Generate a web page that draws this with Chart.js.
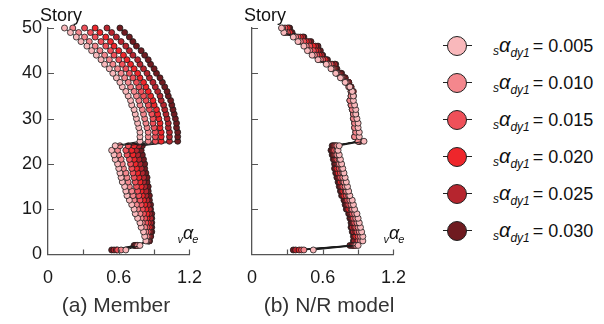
<!DOCTYPE html>
<html lang="en">
<head>
<meta charset="UTF-8">
<title>Story distribution of vαe</title>
<script src="https://cdn.jsdelivr.net/npm/chart.js"></script>
<style>
  body { margin: 0; background: #fff; }
  #wrap { position: relative; width: 604px; height: 324px; font-family: 'Liberation Sans', Arial, sans-serif; }
  #wrap canvas { position: absolute; top: 0; }
  #chartA { left: 0; }
  #chartB { left: 204px; }
  .row { position: absolute; left: 440px; width: 164px; height: 24px; line-height: 24px; font-size: 18px; color: #111; }
  .row .ln { position: absolute; left: 3px; top: 11px; width: 29px; height: 1.3px; background: #222; }
  .row .dot { position: absolute; left: 7px; top: 2px; width: 20px; height: 20px; border-radius: 50%; border: 1.3px solid #222; box-sizing: border-box; }
  .row .txt { position: absolute; left: 53px; top: 0; white-space: nowrap; }
  .pre, .post { font-style: italic; font-size: 12px; position: relative; line-height: 1; }
  .pre { top: 3px; }
  .post { top: 5px; margin-right: 3px; }
  .al { font-style: italic; font-size: 20px; line-height: 1; }
</style>
</head>
<body>
<div id="wrap">
  <canvas id="chartA" width="215" height="324"></canvas>
  <canvas id="chartB" width="215" height="324"></canvas>
  <div id="legend"></div>
</div>
<script>
// story numbers (y axis)
const stories = [1, 2, 3, 4, 5, 6, 7, 8, 9, 10,
  11, 12, 13, 14, 15, 16, 17, 18, 19, 20,
  21, 22, 23, 24, 25, 26, 27, 28, 29, 30,
  31, 32, 33, 34, 35, 36, 37, 38, 39, 40,
  41, 42, 43, 44, 45, 46, 47, 48, 49, 50];

const seriesLabels = ['0.005', '0.010', '0.015', '0.020', '0.025', '0.030'];
const seriesColors = ['#f9b8bb', '#f4878d', '#ef5059', '#ee262b', '#b6252e', '#6f1b20'];

const xTickValues = [0, 0.3, 0.6, 0.9, 1.2];
const xTickLabels = ['0', '', '0.6', '', '1.2'];
const yTickValues = [0, 10, 20, 30, 40, 50];

// (a) Member, story 1..50
const member005 = [0.66, 0.78, 0.83, 0.82, 0.81, 0.79, 0.78, 0.76, 0.74, 0.73,
  0.71, 0.69, 0.67, 0.66, 0.65, 0.63, 0.62, 0.61, 0.60, 0.59,
  0.57, 0.56, 0.54, 0.57, 0.78, 0.78, 0.78, 0.77, 0.76, 0.75,
  0.74, 0.73, 0.71, 0.70, 0.68, 0.66, 0.63, 0.61, 0.58, 0.55,
  0.52, 0.48, 0.45, 0.41, 0.37, 0.33, 0.28, 0.24, 0.19, 0.14];
const member010 = [0.62, 0.76, 0.84, 0.84, 0.83, 0.82, 0.80, 0.79, 0.78, 0.76,
  0.75, 0.73, 0.72, 0.71, 0.69, 0.68, 0.67, 0.66, 0.64, 0.63,
  0.62, 0.60, 0.59, 0.61, 0.85, 0.85, 0.85, 0.84, 0.83, 0.82,
  0.81, 0.80, 0.78, 0.77, 0.75, 0.73, 0.70, 0.68, 0.65, 0.62,
  0.59, 0.55, 0.52, 0.48, 0.44, 0.40, 0.35, 0.31, 0.26, 0.21];
const member015 = [0.59, 0.76, 0.85, 0.85, 0.85, 0.84, 0.83, 0.82, 0.81, 0.80,
  0.79, 0.78, 0.77, 0.76, 0.75, 0.74, 0.73, 0.72, 0.71, 0.70,
  0.69, 0.67, 0.66, 0.68, 0.91, 0.91, 0.91, 0.90, 0.89, 0.89,
  0.88, 0.86, 0.85, 0.83, 0.81, 0.79, 0.77, 0.75, 0.72, 0.69,
  0.66, 0.63, 0.60, 0.56, 0.53, 0.49, 0.45, 0.40, 0.36, 0.31];
const member020 = [0.58, 0.75, 0.85, 0.86, 0.86, 0.86, 0.85, 0.84, 0.84, 0.83,
  0.82, 0.81, 0.80, 0.79, 0.79, 0.78, 0.77, 0.76, 0.75, 0.74,
  0.73, 0.72, 0.71, 0.73, 0.96, 0.96, 0.96, 0.95, 0.95, 0.94,
  0.93, 0.92, 0.90, 0.89, 0.87, 0.85, 0.83, 0.81, 0.78, 0.76,
  0.73, 0.70, 0.67, 0.64, 0.60, 0.56, 0.53, 0.49, 0.44, 0.40];
const member025 = [0.56, 0.74, 0.86, 0.87, 0.87, 0.87, 0.87, 0.87, 0.86, 0.86,
  0.85, 0.84, 0.83, 0.83, 0.82, 0.81, 0.81, 0.80, 0.79, 0.78,
  0.77, 0.76, 0.75, 0.77, 1.03, 1.03, 1.03, 1.02, 1.02, 1.01,
  1.00, 0.99, 0.98, 0.96, 0.95, 0.93, 0.91, 0.89, 0.86, 0.84,
  0.81, 0.78, 0.76, 0.72, 0.69, 0.66, 0.62, 0.58, 0.54, 0.50];
const member030 = [0.54, 0.73, 0.86, 0.87, 0.88, 0.88, 0.88, 0.88, 0.88, 0.87,
  0.87, 0.86, 0.86, 0.85, 0.85, 0.84, 0.84, 0.83, 0.82, 0.82,
  0.81, 0.80, 0.79, 0.80, 1.10, 1.10, 1.10, 1.09, 1.09, 1.08,
  1.07, 1.06, 1.05, 1.04, 1.02, 1.01, 0.99, 0.97, 0.95, 0.92,
  0.90, 0.87, 0.85, 0.82, 0.79, 0.75, 0.72, 0.69, 0.65, 0.61];

// (b) N/R model, story 1..50
const nr005 = [0.52, 0.90, 0.94, 0.94, 0.93, 0.92, 0.91, 0.90, 0.89, 0.87,
  0.86, 0.85, 0.83, 0.82, 0.81, 0.80, 0.79, 0.78, 0.77, 0.76,
  0.75, 0.74, 0.73, 0.74, 0.95, 0.91, 0.91, 0.90, 0.90, 0.89,
  0.88, 0.88, 0.87, 0.86, 0.86, 0.85, 0.83, 0.79, 0.75, 0.71,
  0.67, 0.63, 0.56, 0.51, 0.47, 0.44, 0.39, 0.35, 0.27, 0.25];
const nr010 = [0.44, 0.88, 0.92, 0.92, 0.91, 0.90, 0.89, 0.88, 0.87, 0.85,
  0.84, 0.83, 0.82, 0.80, 0.79, 0.78, 0.77, 0.77, 0.76, 0.74,
  0.74, 0.72, 0.72, 0.72, 0.90, 0.87, 0.88, 0.87, 0.87, 0.86,
  0.86, 0.85, 0.84, 0.83, 0.84, 0.84, 0.82, 0.80, 0.76, 0.72,
  0.68, 0.65, 0.58, 0.53, 0.49, 0.46, 0.41, 0.37, 0.28, 0.26];
const nr015 = [0.42, 0.87, 0.90, 0.90, 0.89, 0.88, 0.87, 0.86, 0.85, 0.84,
  0.82, 0.81, 0.80, 0.79, 0.77, 0.77, 0.75, 0.75, 0.74, 0.73,
  0.72, 0.71, 0.70, 0.71, 0.91, 0.88, 0.89, 0.88, 0.88, 0.87,
  0.87, 0.86, 0.85, 0.84, 0.85, 0.85, 0.83, 0.81, 0.77, 0.73,
  0.69, 0.67, 0.60, 0.55, 0.52, 0.49, 0.44, 0.39, 0.30, 0.28];
const nr020 = [0.40, 0.86, 0.89, 0.88, 0.88, 0.87, 0.86, 0.85, 0.84, 0.82,
  0.81, 0.80, 0.78, 0.77, 0.76, 0.75, 0.74, 0.73, 0.72, 0.72,
  0.71, 0.70, 0.69, 0.70, 0.92, 0.89, 0.90, 0.89, 0.89, 0.88,
  0.88, 0.87, 0.86, 0.85, 0.86, 0.86, 0.84, 0.82, 0.78, 0.74,
  0.70, 0.68, 0.62, 0.57, 0.54, 0.52, 0.46, 0.41, 0.32, 0.30];
const nr025 = [0.37, 0.85, 0.87, 0.87, 0.86, 0.85, 0.85, 0.84, 0.83, 0.81,
  0.80, 0.79, 0.77, 0.76, 0.75, 0.74, 0.73, 0.72, 0.71, 0.71,
  0.70, 0.69, 0.68, 0.69, 0.91, 0.88, 0.89, 0.88, 0.88, 0.87,
  0.87, 0.86, 0.85, 0.84, 0.85, 0.85, 0.84, 0.82, 0.79, 0.75,
  0.71, 0.70, 0.63, 0.59, 0.56, 0.54, 0.48, 0.43, 0.33, 0.31];
const nr030 = [0.35, 0.83, 0.86, 0.86, 0.85, 0.84, 0.84, 0.83, 0.82, 0.80,
  0.79, 0.78, 0.76, 0.75, 0.74, 0.73, 0.72, 0.71, 0.70, 0.70,
  0.69, 0.68, 0.67, 0.68, 0.90, 0.87, 0.88, 0.87, 0.87, 0.86,
  0.86, 0.85, 0.84, 0.83, 0.84, 0.84, 0.83, 0.82, 0.79, 0.76,
  0.72, 0.71, 0.64, 0.60, 0.58, 0.56, 0.50, 0.44, 0.34, 0.32];

const memberSeries = [member005, member010, member015, member020, member025, member030];
const nrSeries = [nr005, nr010, nr015, nr020, nr025, nr030];

const axisColor = '#555';
Chart.defaults.font.family = "'Liberation Sans', Arial, sans-serif";

// ticks point inwards, plus "Story", vαe and the caption
const panelDeco = {
    id: 'panelDeco',
    afterDraw(chart, args, opts) {
        const ctx = chart.ctx;
        const { left, right, top, bottom } = chart.chartArea;
        const xs = chart.scales.x, ys = chart.scales.y;
        ctx.save();
        ctx.strokeStyle = axisColor;
        ctx.lineWidth = 1.2;
        ctx.beginPath();
        xs.ticks.forEach(t => {
            if (t.value === 0) return;
            const px = Math.round(xs.getPixelForValue(t.value)) + 0.5;
            ctx.moveTo(px, bottom);
            ctx.lineTo(px, bottom - 5);
        });
        ys.ticks.forEach(t => {
            if (t.value === 0) return;
            const py = Math.round(ys.getPixelForValue(t.value)) + 0.5;
            ctx.moveTo(left, py);
            ctx.lineTo(left + 6, py);
        });
        ctx.stroke();

        ctx.fillStyle = '#111';
        ctx.textAlign = 'left';
        ctx.textBaseline = 'alphabetic';
        ctx.font = "18px 'Liberation Sans'";
        ctx.fillText('Story', left - 8, top - 7);

        let x = right - opts.symOffset;
        ctx.font = "italic 11px 'Liberation Sans'";
        ctx.fillText('v', x, bottom - 12);
        x += ctx.measureText('v').width;
        ctx.font = "italic 18px 'Liberation Sans'";
        ctx.fillText('α', x, bottom - 15.5);
        x += ctx.measureText('α').width - 1;
        ctx.font = "italic 11px 'Liberation Sans'";
        ctx.fillText('e', x, bottom - 12);

        ctx.fillStyle = '#333';
        ctx.textAlign = 'center';
        ctx.font = "21px 'Liberation Sans'";
        ctx.fillText(opts.caption, opts.captionX, 312);
        ctx.restore();
    }
};

function makeDatasets(seriesList) {
    return seriesList.map((vals, i) => ({
        label: seriesLabels[i],
        data: stories.map((s, k) => ({ x: vals[k], y: s })),
        showLine: true,
        borderColor: '#1a1a1a',
        borderWidth: 1,
        pointRadius: 3,
        pointHoverRadius: 3,
        pointBackgroundColor: seriesColors[i],
        pointBorderColor: '#1a1a1a',
        pointBorderWidth: 0.8,
        clip: false
    }));
}

function makeChart(id, seriesList, showYLabels, padRight, deco) {
    return new Chart(document.getElementById(id), {
        type: 'scatter',
        data: { datasets: makeDatasets(seriesList) },
        options: {
            responsive: false,
            animation: false,
            events: [],
            layout: { padding: { left: 0, right: padRight, top: 28, bottom: 29.5 } },
            elements: { line: { tension: 0 } },
            plugins: { legend: { display: false }, tooltip: { enabled: false }, panelDeco: deco },
            scales: {
                x: {
                    type: 'linear', min: 0, max: 1.2,
                    afterBuildTicks: s => { s.ticks = xTickValues.map(v => ({ value: v })); },
                    afterFit: s => { s.height = 40; },
                    grid: { display: false, drawTicks: false },
                    border: { display: true, color: axisColor, width: 1.3 },
                    ticks: {
                        autoSkip: false, maxRotation: 0, padding: 13, color: '#1a1a1a',
                        font: { size: 18 },
                        callback: (v, i) => xTickLabels[i]
                    }
                },
                y: {
                    type: 'linear', min: 0, max: 50,
                    afterBuildTicks: s => { s.ticks = yTickValues.map(v => ({ value: v })); },
                    afterFit: s => { s.width = 48; },
                    grid: { display: false, drawTicks: false },
                    border: { display: true, color: axisColor, width: 1.3 },
                    ticks: {
                        display: showYLabels, padding: 6, color: '#1a1a1a',
                        font: { size: 18 }
                    }
                }
            }
        },
        plugins: [panelDeco]
    });
}

makeChart('chartA', memberSeries, true, 15, { caption: '(a) Member', captionX: 116, symOffset: 12 });
makeChart('chartB', nrSeries, false, 16, { caption: '(b) N/R model', captionX: 125, symOffset: 10 });

// legend
const legend = document.getElementById('legend');
seriesLabels.forEach((lab, i) => {
    const row = document.createElement('div');
    row.className = 'row';
    row.style.top = (34 + i * 37) + 'px';
    row.innerHTML = '<div class="ln"></div><div class="dot" style="background:' + seriesColors[i] + '"></div>' +
        '<span class="txt"><span class="pre">s</span><span class="al">α</span><span class="post">dy1</span>= ' + lab + '</span>';
    legend.appendChild(row);
});
</script>
</body>
</html>
